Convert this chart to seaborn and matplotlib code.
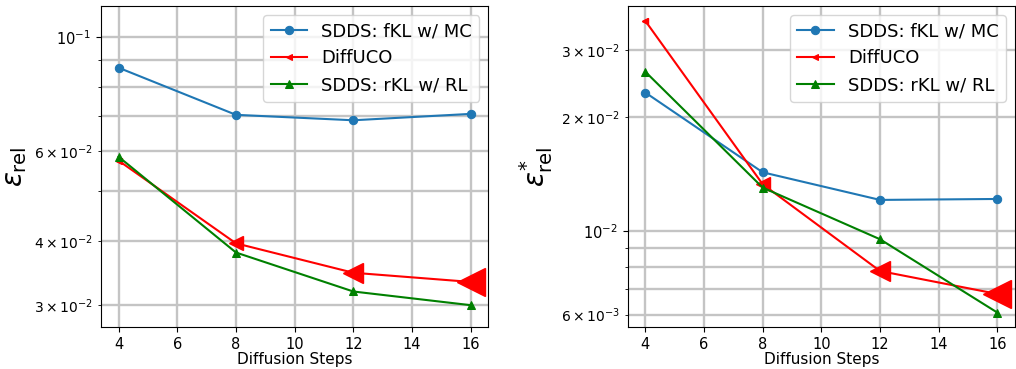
import matplotlib
matplotlib.use("Agg")
import matplotlib.pyplot as plt
import seaborn as sns

# data
steps = [4, 8, 12, 16]

# left panel: eps_rel
fkl_mc_rel = [0.0871, 0.0705, 0.0688, 0.0708]
diffuco_rel = [0.0574, 0.0396, 0.0347, 0.0333]
rkl_rl_rel = [0.0584, 0.0380, 0.0319, 0.0300]

# right panel: eps*_rel
fkl_mc_star = [0.0232, 0.01427, 0.01206, 0.01213]
diffuco_star = [0.0359, 0.01327, 0.00782, 0.0068]
rkl_rl_star = [0.02634, 0.0130, 0.00949, 0.00607]

labels = ["SDDS: fKL w/ MC", "DiffUCO", "SDDS: rKL w/ RL"]

fig, axes = plt.subplots(1, 2, figsize=(10.16, 3.69), dpi=100)
plt.subplots_adjust(left=0.0994, right=0.999, bottom=0.1138, top=0.9837, wspace=0.36)


def draw(ax, fkl, diff, rkl, ylabel, ylim):
    sns.lineplot(x=steps, y=fkl, ax=ax, color="#1f77b4", marker="o", markersize=6,
                 markeredgecolor="#1f77b4", linewidth=1.5, label=labels[0])
    sns.lineplot(x=steps, y=diff, ax=ax, color="red", marker="<", markersize=5,
                 markeredgecolor="red", linewidth=1.5, label=labels[1])
    # DiffUCO markers grow with the number of steps
    red_sizes = [5, 10, 15, 20]
    for x, y, ms in zip(steps, diff, red_sizes):
        ax.plot(x, y, marker="<", markersize=ms, color="red", linestyle="none")
    sns.lineplot(x=steps, y=rkl, ax=ax, color="green", marker="^", markersize=6,
                 markeredgecolor="green", linewidth=1.5, label=labels[2])
    ax.set_yscale("log")
    ax.set_ylim(*ylim)
    ax.set_xlim(3.4, 16.6)
    ax.set_xticks([4, 6, 8, 10, 12, 14, 16])
    ax.grid(True, which="both", color="#c4c4c4", linewidth=1.7)
    ax.set_axisbelow(True)
    ax.tick_params(labelsize=10.5)
    ax.set_xlabel("Diffusion Steps", fontsize=11, labelpad=0.5)
    ax.set_ylabel(ylabel, fontsize=20)
    ax.legend(loc="upper right", fontsize=13)


draw(axes[0], fkl_mc_rel, diffuco_rel, rkl_rl_rel,
     r"$\varepsilon_{\rm rel}$", (0.0272, 0.1149))
draw(axes[1], fkl_mc_star, diffuco_star, rkl_rl_star,
     r"$\varepsilon^{*}_{\rm rel}$", (0.00556, 0.0393))

plt.savefig("out.png", dpi=100)
plt.close()
